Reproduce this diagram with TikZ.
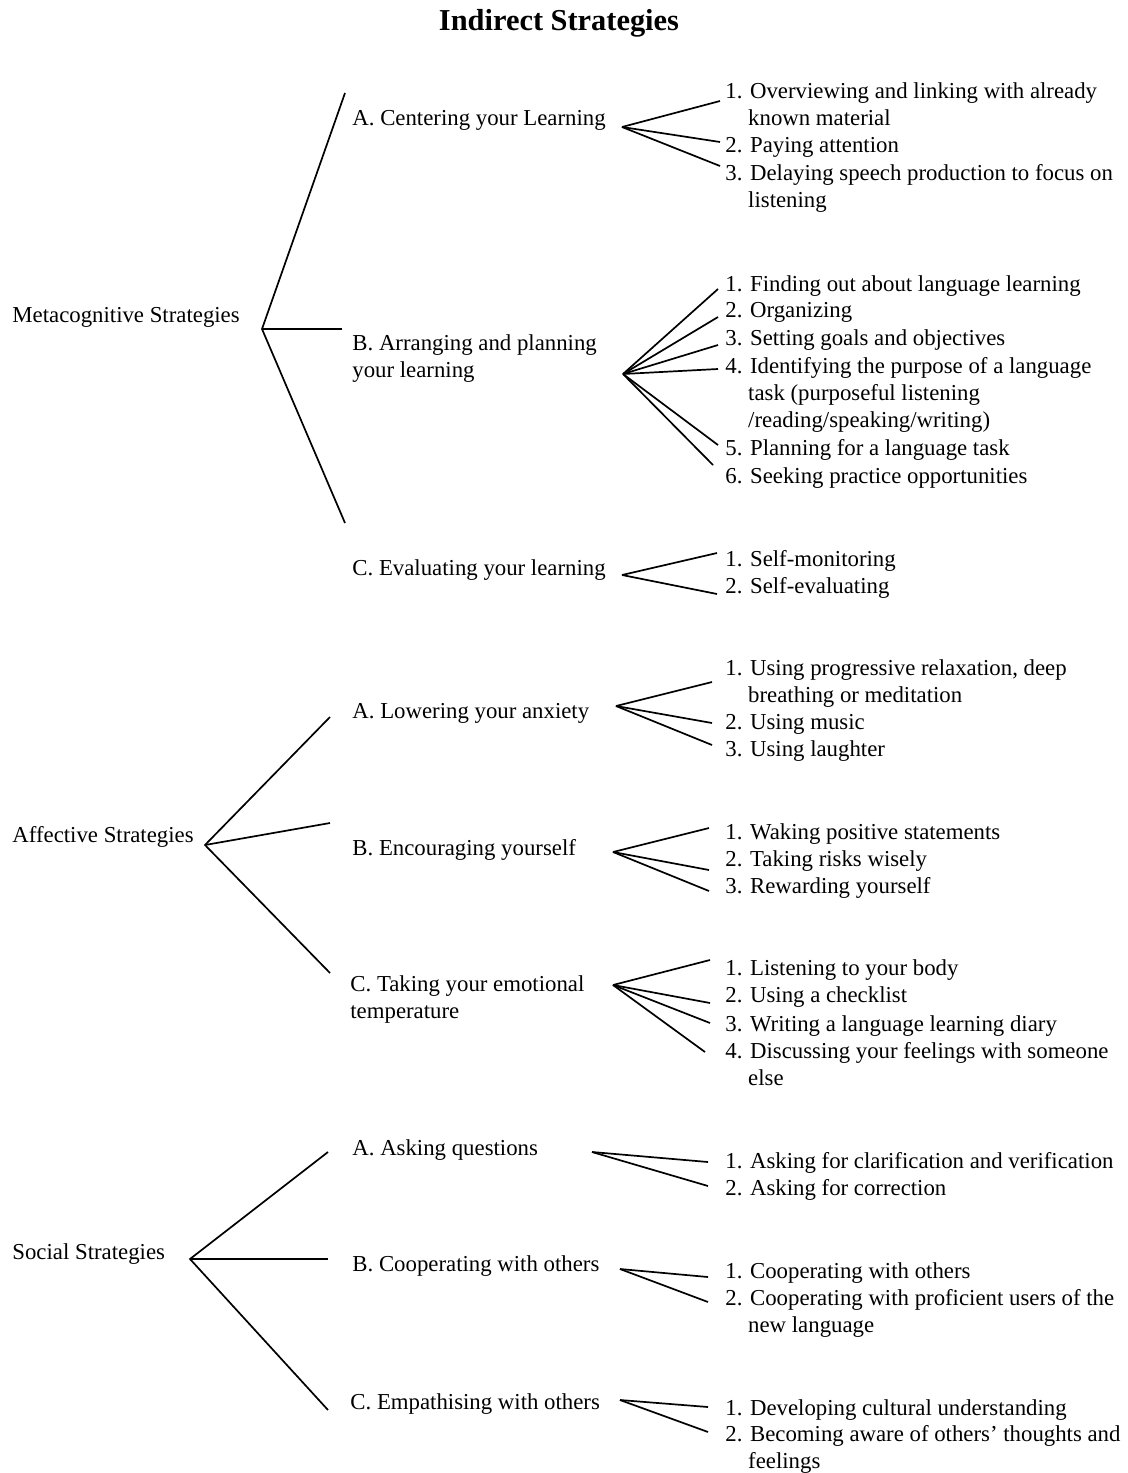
\documentclass[tikz,border=0pt]{standalone}
\usepackage{fontspec}
\setmainfont{Liberation Serif}
\begin{document}
\begin{tikzpicture}[x=0.5pt,y=-0.5pt,
  txt/.style={inner sep=0pt,anchor=base west,align=left,font=\fontsize{11.4}{13.5}\selectfont},
  ttl/.style={inner sep=0pt,anchor=base,font=\fontsize{15.2}{18}\selectfont\bfseries},
  ln/.style={line width=0.85pt,black}]
\useasboundingbox (0,0) rectangle (1128,1473);
\newcommand{\ind}{\phantom{1.\ }}
% title (multi-line nodes are placed by the baseline of their last line)
\node[ttl] (title) at (559,30) {Indirect Strategies};
% ===== Metacognitive =====
\node[txt] (meta) at (12,322) {Metacognitive Strategies};
\node[txt] (mA) at (352,125) {A. Centering your Learning};
\node[txt] (mB) at (352,377) {B. Arranging and planning\\your learning};
\node[txt] (mC) at (352,575) {C. Evaluating your learning};
\coordinate (mv) at (262,329);
\coordinate (mAe) at (345,93);
\coordinate (mBe) at (342,329);
\coordinate (mCe) at (345,523);
\draw[ln] (mAe) -- (mv) -- (mCe);
\draw[ln] (mv) -- (mBe);
% Centering items
\node[txt] (mA1) at (725,125) {1. Overviewing and linking with already\\\ind known material};
\node[txt] (mA2) at (725,152) {2. Paying attention};
\node[txt] (mA3) at (725,207) {3. Delaying speech production to focus on\\\ind listening};
\coordinate (mAv) at (622,127);
\coordinate (mA1e) at (720,101);
\coordinate (mA2e) at (720,142);
\coordinate (mA3e) at (720,166);
\foreach \e in {mA1e,mA2e,mA3e} \draw[ln] (mAv) -- (\e);
% Arranging items
\node[txt] (mB1) at (725,291) {1. Finding out about language learning};
\node[txt] (mB2) at (725,317) {2. Organizing};
\node[txt] (mB3) at (725,345) {3. Setting goals and objectives};
\node[txt] (mB4) at (725,427) {4. Identifying the purpose of a language\\\ind task (purposeful listening\\\ind /reading/speaking/writing)};
\node[txt] (mB5) at (725,455) {5. Planning for a language task};
\node[txt] (mB6) at (725,483) {6. Seeking practice opportunities};
\coordinate (mBv) at (623,374);
\coordinate (mB1e) at (718,289);
\coordinate (mB2e) at (718,317);
\coordinate (mB3e) at (718,345);
\coordinate (mB4e) at (718,369);
\coordinate (mB5e) at (718,445);
\coordinate (mB6e) at (713,465);
\foreach \e in {mB1e,mB2e,mB3e,mB4e,mB5e,mB6e} \draw[ln] (mBv) -- (\e);
% Evaluating items
\node[txt] (mC1) at (725,566) {1. Self-monitoring};
\node[txt] (mC2) at (725,593) {2. Self-evaluating};
\coordinate (mCv) at (622,575);
\coordinate (mC1e) at (717,553);
\coordinate (mC2e) at (717,594);
\foreach \e in {mC1e,mC2e} \draw[ln] (mCv) -- (\e);
% ===== Affective =====
\node[txt] (aff) at (12,842) {Affective Strategies};
\node[txt] (aA) at (352,718) {A. Lowering your anxiety};
\node[txt] (aB) at (352,855) {B. Encouraging yourself};
\node[txt] (aC) at (350,1018) {C. Taking your emotional\\temperature};
\coordinate (av) at (205,845);
\coordinate (aAe) at (330,717);
\coordinate (aBe) at (330,823);
\coordinate (aCe) at (330,973);
\draw[ln] (aAe) -- (av) -- (aCe);
\draw[ln] (av) -- (aBe);
% Lowering items
\node[txt] (aA1) at (725,702) {1. Using progressive relaxation, deep\\\ind breathing or meditation};
\node[txt] (aA2) at (725,729) {2. Using music};
\node[txt] (aA3) at (725,756) {3. Using laughter};
\coordinate (aAv) at (616,706);
\coordinate (aA1e) at (712,682);
\coordinate (aA2e) at (712,723);
\coordinate (aA3e) at (712,745);
\foreach \e in {aA1e,aA2e,aA3e} \draw[ln] (aAv) -- (\e);
% Encouraging items
\node[txt] (aB1) at (725,839) {1. Waking positive statements};
\node[txt] (aB2) at (725,866) {2. Taking risks wisely};
\node[txt] (aB3) at (725,893) {3. Rewarding yourself};
\coordinate (aBv) at (613,852);
\coordinate (aB1e) at (709,828);
\coordinate (aB2e) at (709,870);
\coordinate (aB3e) at (709,891);
\foreach \e in {aB1e,aB2e,aB3e} \draw[ln] (aBv) -- (\e);
% Taking items
\node[txt] (aC1) at (725,975) {1. Listening to your body};
\node[txt] (aC2) at (725,1002) {2. Using a checklist};
\node[txt] (aC3) at (725,1031) {3. Writing a language learning diary};
\node[txt] (aC4) at (725,1085) {4. Discussing your feelings with someone\\\ind else};
\coordinate (aCv) at (613,985);
\coordinate (aC1e) at (710,960);
\coordinate (aC2e) at (710,1003);
\coordinate (aC3e) at (710,1023);
\coordinate (aC4e) at (705,1052);
\foreach \e in {aC1e,aC2e,aC3e,aC4e} \draw[ln] (aCv) -- (\e);
% ===== Social =====
\node[txt] (soc) at (12,1259) {Social Strategies};
\node[txt] (sA) at (352,1155) {A. Asking questions};
\node[txt] (sB) at (352,1271) {B. Cooperating with others};
\node[txt] (sC) at (350,1409) {C. Empathising with others};
\coordinate (sv) at (190,1259);
\coordinate (sAe) at (328,1152);
\coordinate (sBe) at (328,1259);
\coordinate (sCe) at (328,1410);
\draw[ln] (sAe) -- (sv) -- (sCe);
\draw[ln] (sv) -- (sBe);
% Asking items
\node[txt] (sA1) at (725,1168) {1. Asking for clarification and verification};
\node[txt] (sA2) at (725,1195) {2. Asking for correction};
\coordinate (sAv) at (592,1152);
\coordinate (sA1e) at (708,1162);
\coordinate (sA2e) at (708,1186);
\foreach \e in {sA1e,sA2e} \draw[ln] (sAv) -- (\e);
% Cooperating items
\node[txt] (sB1) at (725,1278) {1. Cooperating with others};
\node[txt] (sB2) at (725,1332) {2. Cooperating with proficient users of the\\\ind new language};
\coordinate (sBv) at (620,1269);
\coordinate (sB1e) at (708,1277);
\coordinate (sB2e) at (708,1302);
\foreach \e in {sB1e,sB2e} \draw[ln] (sBv) -- (\e);
% Empathising items
\node[txt] (sC1) at (725,1415) {1. Developing cultural understanding};
\node[txt] (sC2) at (725,1468) {2. Becoming aware of others' thoughts and\\\ind feelings};
\coordinate (sCv) at (620,1400);
\coordinate (sC1e) at (708,1407);
\coordinate (sC2e) at (708,1432);
\foreach \e in {sC1e,sC2e} \draw[ln] (sCv) -- (\e);
\end{tikzpicture}
\end{document}
